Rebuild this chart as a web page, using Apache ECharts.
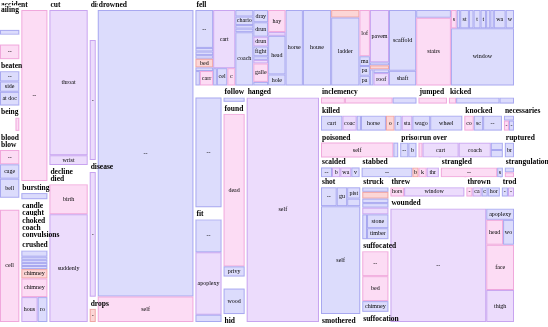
<!DOCTYPE html>
<html>
<head>
<meta charset="utf-8">
<script src="https://cdn.jsdelivr.net/npm/echarts@6/dist/echarts.min.js"></script>
<style>
html, body { margin: 0; padding: 0; background: #fff; }
#chart { width: 548px; height: 327px; }
</style>
</head>
<body>
<div id="chart"></div>
<script>
// verdict groups, in the order they are laid out
var groups = ['accident', 'ailing', 'beaten', 'being', 'blood', 'blow', '', '', 'bursting', 'candle',
    'caught', 'choked', 'coach', 'convulsions', 'crushed', 'cut', 'decline', 'died', 'dislocated', 'disease',
    'drops', 'drowned', 'fell', '', 'fit', 'follow', 'found', '', 'hid', 'hanged',
    'inclemency', 'jumped', 'kicked', 'killed', 'knocked', 'necessaries', 'poisoned', 'prison', 'run over', 'ruptured',
    'scalded', 'stabbed', 'strangled', 'strangulation', 'shot', 'smothered', 'struck', 'suffocated', 'suffocation', 'threw',
    'thrown', 'trod', 'wounded'];

var groupSize = [110, 1170, 970, 530, 150, 1250, 2600, 5040, 500, 200,
    200, 200, 200, 280, 2300, 6600, 280, 5920, 1280, 1080,
    200, 31040, 27500, 3360, 3160, 370, 3960, 850, 180, 17240,
    1730, 540, 1190, 3800, 1050, 320, 1950, 450, 2125, 275,
    800, 1560, 1260, 220, 5600, 320, 1760, 2000, 280, 1575,
    735, 294, 15400];

// how the groups nest into columns and rows (indexes into groups)
var layoutTree = [
    [0, 1, 2, 3, 4, 5, 6],
    [7, 8, 9, 10, 11, 12, 13, 14],
    [15, 16, 17],
    [18, 19, 20],
    21,
    [22, [[23, 24], [25, 26, 27, 28], 29,
        [[30, 31, 32], [33, 34, 35], 'lower']]]
];
// the lower right block: two rows, then the bottom corner
var lowerRows = [
    [36, 37, 38, 39],
    [40, 41, 42, 43],
    [[44, 45], [46, 47, 48], [[49, 50, 51], 52]]
];

var leafNames = [
    ['--'],
    ['', '--', '', '--'],
    ['--', 'side', 'at dock'],
    ['', 'cold'],
    [''],
    ['--', 'cage', 'bell'],
    ['cell'],
    ['--'],
    ['vessel'],
    [''],
    [''],
    [''],
    [''],
    [''],
    ['--', 'bank', 'beam', 'cart', 'cask', 'chimney', 'chimneypiece', 'house', 'roof'],
    ['throat', 'wrist'],
    [''],
    ['birth', 'suddenly'],
    ['', '--'],
    ['--'],
    ['--'],
    ['--', 'self'],
    ['--', 'bank', 'barge', 'beam', 'bed', 'boat', 'bridge', 'carriage', 'cart', 'cask', 'cellar', 'chair',
        'chaise', 'chariot', 'chest', 'chimney', 'coach', 'dray', 'drunk', 'drunkenness', 'fight', 'fire', 'fit',
        'gallery', 'gate', 'hay', 'hayloft', 'head', 'hole', 'horse', 'house', 'joists', 'ladder', 'loft', 'mast',
        'parapet', 'parts', 'pavement', 'pier', 'pit', 'plank', 'quay', 'roof', 'scaffold', 'shaft', 'staircase',
        'stairs', 'steps', 'stage', 'stone', 'stool', 'timber', 'tree', 'tub', 'vessel', 'wagon', 'wall', 'window'],
    ['--'],
    ['--', 'apoplexy', 'apoplectic'],
    ['ditch'],
    ['dead', 'privy'],
    ['wood'],
    [''],
    ['self'],
    ['poverty', 'weather', '--'],
    ['window'],
    ['--', 'horse', 'cow'],
    ['cart', 'coach', 'dray', 'horse', 'omnibus', 'railway', 'station', 'wagon', 'wheel'],
    ['coach', 'scaffold', '--'],
    ['--', '--', '--'],
    ['self', '--'],
    ['--', 'bed'],
    ['--', 'cart', 'coach', 'wagon', 'wheel'],
    ['brain'],
    ['--', 'boiler', 'water', 'vessel'],
    ['--', 'bed', 'knife', 'throat'],
    ['--', 'self'],
    ['--', '--'],
    ['--', 'gun', 'pistol', 'rifle', 'self'],
    ['--'],
    ['--', 'boat', 'cart', 'horse', 'lightning', 'rail', 'stone', 'timber'],
    ['--', 'bed', 'chimney'],
    [''],
    ['horse', 'window'],
    ['--', 'cart', 'chaise', 'horse'],
    ['--', '--'],
    ['--', 'apoplexy', 'head', 'wound', 'face', 'thigh']
];

var leafSizes = [
    [1],
    [6, 2, 4, 6],
    [3, 3, 4],
    [4, 1],
    [1],
    [3, 3, 4],
    [1],
    [1],
    [1],
    [1],
    [1],
    [1],
    [1],
    [1],
    [2, 1, 1, 1, 1, 3, 6, 5, 3],
    [15, 1],
    [1],
    [1.2, 4.3],
    [1, 4],
    [1],
    [1],
    [28, 2.5],
    [630, 60, 60, 60, 144, 60, 60, 180, 1210, 60, 170, 130,
        110, 144, 60, 60, 900, 170, 200, 136, 136, 50, 50,
        255, 50, 360, 60, 630, 180, 1230, 2000, 200, 1800, 456, 96,
        96, 96, 936, 54, 72, 54, 54, 180, 1550, 375, 256,
        2200, 100, 60, 150, 80, 120, 96, 72, 60, 204, 144, 3380],
    [1],
    [9, 17, 2],
    [1],
    [30, 2],
    [1],
    [1],
    [1],
    [3, 6, 3],
    [1],
    [1, 6, 2],
    [3, 2, 0.6, 3.5, 1.2, 1, 1.5, 2.5, 4.5],
    [1.5, 1.5, 3],
    [1, 1, 1],
    [15, 1],
    [1, 1],
    [1, 9, 8, 1.5, 1.5],
    [1],
    [2, 1.5, 2, 1.5],
    [5, 0.6, 0.8, 1.2],
    [10, 1],
    [1, 1],
    [3, 2, 1.5, 1, 43],
    [1],
    [1, 1.5, 1, 1, 1.5, 1, 2.5, 2],
    [7, 7, 3],
    [1],
    [2.5, 11],
    [1, 1.5, 1, 2],
    [1, 1],
    [104, 3, 4, 2.6, 12, 8.5]
];

// who died: m men, f women, b both, u unknown, w none recorded
var leafSex = ['m', 'wmwf', 'mmm', 'wf', 'w', 'fmm', 'f', 'f', 'm', 'w',
    'w', 'w', 'w', 'w', 'mmmmmufbm', 'bb', 'w', 'fb', 'wb', 'b',
    'u', 'mf',
    'mmmmumm' + 'fbmmf' + 'mmmmmmm' + 'bmmbfm' + 'fbmmmm' + 'umfmmm' + 'bmummb' + 'mmmff' + 'mmmmmmmmmm' + 'f',
    'm', 'mbm', 'm', 'fm', 'm', 'w', 'b',
    'ffm', 'f', 'fmm', 'mbmmumbmm', 'fmm', 'mfm', 'fm', 'mm', 'fbbmm', 'm',
    'mbbm', 'mufb', 'fm', 'mf', 'mmmmm', 'f', 'mummbmmm', 'ffm', 'w', 'fb',
    'fbmm', 'mb', 'bmfmfb'];

// leaves that share a band inside a group (group index -> leaf counts)
var leafBands = {
    22: [8, 4, 5, 8, 4, 1, 1, 2, 4, 6, 2, 2, 10, 1],
    44: [4, 1],
    52: [1, 1, 2, 1, 1]
};

var fills = { m: '#dcdcfc', b: '#ecdcfc', f: '#fcdcf4', u: '#fcd6d6', w: '#ffffff' };
var strokes = { m: '#a8a8f0', b: '#c8a4f0', f: '#f0a8dc', u: '#f0a4a4', w: '#ffffff' };
var clear = 'rgba(255,255,255,0)';

function sizeOf(node) {
    if (typeof node === 'number') return groupSize[node];
    if (node === 'lower') return sizeOf(lowerRows);
    return node.reduce(function (a, n) { return a + sizeOf(n); }, 0);
}

function holder(children, gap) {
    return {
        name: '',
        itemStyle: { borderWidth: 0, gapWidth: gap, color: clear, borderColor: clear },
        upperLabel: { show: false },
        children: children
    };
}

// an empty, see-through place kept for another series
function slot(key, value) {
    return {
        name: '',
        value: value,
        slot: key,
        itemStyle: { borderWidth: 0, color: clear, borderColor: clear },
        label: { show: false },
        upperLabel: { show: false }
    };
}

function buildGroup(i) {
    var total = leafSizes[i].reduce(function (a, b) { return a + b; }, 0);
    var leaves = leafNames[i].map(function (n, j) {
        var s = leafSex[i].charAt(j);
        var approx = leafSizes[i][j] / total * groupSize[i] * 0.85;
        return {
            name: n,
            value: leafSizes[i][j],
            itemStyle: { borderWidth: 1, color: fills[s], borderColor: strokes[s] },
            label: { show: approx > 90 }
        };
    });
    var children = leaves;
    if (leafBands[i]) {
        children = [];
        var k = 0;
        leafBands[i].forEach(function (c) {
            children.push(c === 1 ? leaves[k] : holder(leaves.slice(k, k + c), 0));
            k += c;
        });
    }
    return {
        name: groups[i],
        value: groupSize[i],
        itemStyle: { borderWidth: 0, gapWidth: 0, color: clear, borderColor: clear },
        upperLabel: {
            show: true,
            height: 10,
            color: '#000',
            backgroundColor: groups[i] ? '#fff' : clear,
            fontFamily: 'Liberation Serif',
            fontWeight: 'bold',
            fontSize: 7.5,
            padding: [0, 1, 0, 1],
            overflow: 'none'
        },
        children: children
    };
}

function buildNode(node) {
    if (typeof node === 'number') return buildGroup(node);
    if (node === 'lower') return slot('lower', sizeOf(lowerRows));
    return holder(node.map(buildNode), 2);
}

function makeSeries(box, ratio, gap, data) {
    return {
        type: 'treemap',
        left: box.x,
        top: box.y,
        width: box.width,
        height: box.height,
        sort: false,
        squareRatio: ratio,
        roam: false,
        nodeClick: false,
        visibleMin: 0,
        breadcrumb: { show: false },
        itemStyle: { borderWidth: 0, gapWidth: gap, color: clear, borderColor: clear },
        label: {
            position: 'inside',
            color: '#000',
            fontFamily: 'Liberation Serif',
            fontSize: 6,
            padding: 0,
            overflow: 'truncate',
            ellipsis: ''
        },
        data: data
    };
}

// where the treemap put a slot node, in page pixels
function findSlot(seriesIndex, key, box) {
    var tree = myChart.getModel().getSeriesByIndex(seriesIndex).getData().tree;
    var found = null;
    tree.root.eachNode(function (node) {
        if (found || node.getModel().get('slot') !== key) return;
        var x = box.x, y = box.y;
        for (var n = node; n; n = n.parentNode) {
            var l = n.getLayout();
            if (l) { x += l.x || 0; y += l.y || 0; }
        }
        var own = node.getLayout();
        found = { x: x, y: y, width: own.width, height: own.height };
    });
    return found;
}

var myChart = echarts.init(document.getElementById('chart'));
var chartBox = { x: 0, y: 0, width: 514, height: 322 };
var mainSeries = makeSeries(chartBox, 0.0001, 2, layoutTree.map(buildNode));
myChart.setOption({ animation: false, series: [mainSeries] });

try {
    // rows stacked inside a wide block need the other cutting direction
    var lowerBox = findSlot(0, 'lower', chartBox);
    var splitSeries = makeSeries(lowerBox, 1000, 0, lowerRows.map(function (r, i) {
        return slot('part' + i, sizeOf(r));
    }));
    myChart.setOption({ series: [mainSeries, splitSeries] });
    var allSeries = [mainSeries, splitSeries];
    lowerRows.forEach(function (r, i) {
        var box = findSlot(1, 'part' + i, lowerBox);
        allSeries.push(makeSeries(box, 0.0001, 2, r.map(buildNode)));
    });
    myChart.setOption({ series: allSeries });
} catch (e) {
    console.log('split failed', e);
    layoutTree[5][1][3][2] = lowerRows;
    myChart.setOption({ series: [makeSeries(chartBox, 0.0001, 2, layoutTree.map(buildNode))] }, true);
}
</script>
</body>
</html>
